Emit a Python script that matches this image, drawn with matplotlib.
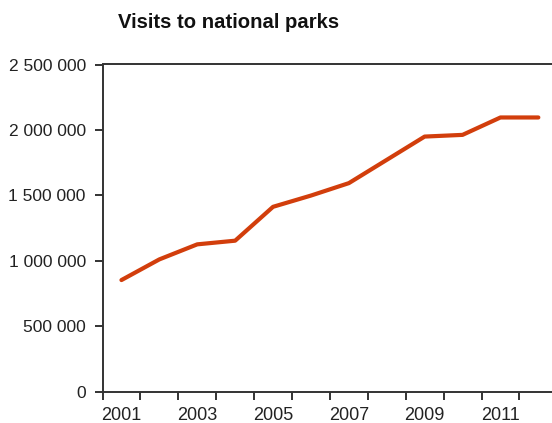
import matplotlib
matplotlib.use("Agg")
import matplotlib.pyplot as plt
from matplotlib.ticker import FixedLocator, FuncFormatter

years = [2001, 2002, 2003, 2004, 2005, 2006, 2007, 2008, 2009, 2010, 2011, 2012]
visits = [852000, 1010000, 1125000, 1153000, 1412000, 1498000, 1593000, 1771000,
          1949000, 1962000, 2095000, 2095000]
year_labels = ["2001", "2003", "2005", "2007", "2009", "2011"]
title = "Visits to national parks"

plt.rcParams['font.family'] = ['Liberation Sans', 'DejaVu Sans']

W, H = 552, 423
fig = plt.figure(figsize=(W / 100, H / 100), dpi=100)
left, right, top, bottom = 102.5, 552, 64.5, 391.5
ax = fig.add_axes([left / W, 1 - bottom / H, (right - left) / W, (bottom - top) / H])

x = list(range(len(years)))
ax.plot(x, visits, color='#D23E0C', lw=3.0, solid_capstyle='round', solid_joinstyle='round')

step = 37.9
ax.set_xlim(-0.5, -0.5 + (right - left) / step)
ax.set_ylim(0, 2500000)

ax.xaxis.set_major_locator(FixedLocator([i - 0.5 for i in range(13)]))
ax.xaxis.set_major_formatter(FuncFormatter(lambda v, p: ""))
ax.xaxis.set_minor_locator(FixedLocator([years.index(int(y)) for y in year_labels]))
ax.set_xticklabels(year_labels, minor=True)
ax.tick_params(axis='x', which='minor', length=0, pad=11, labelsize=13, colors='#222222')
ax.tick_params(axis='x', which='major', length=6, width=1.4, color='#333333', direction='out')

ax.set_yticks([0, 500000, 1000000, 1500000, 2000000, 2500000])
ax.yaxis.set_major_formatter(FuncFormatter(lambda v, p: f"{int(v):,}".replace(",", " ")))
ax.tick_params(axis='y', length=6, width=1.4, color='#333333', pad=6, labelsize=12.5,
               labelcolor='#222222')

for s in ['right']:
    ax.spines[s].set_visible(False)
for s in ['left', 'bottom', 'top']:
    ax.spines[s].set_color('#333333')
    ax.spines[s].set_linewidth(1.4)

fig.text(117.5 / W, 1 - 27.7 / H, title, fontsize=14.6, fontweight='bold',
         ha='left', va='baseline', color='#111111')

fig.savefig("out.png", dpi=100)
